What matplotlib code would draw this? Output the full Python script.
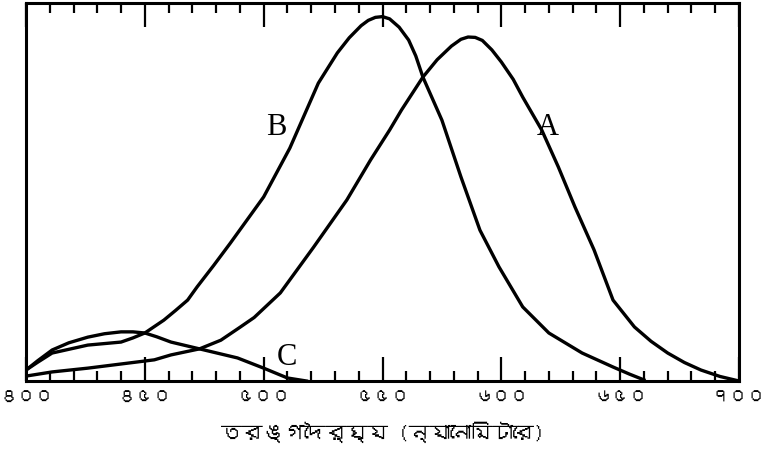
import numpy as np
import matplotlib
matplotlib.use("Agg")
import matplotlib.pyplot as plt
from matplotlib import font_manager
from matplotlib.ticker import MultipleLocator

# wavelength (nm) and relative absorption
nm_a = [400, 411, 426, 440, 454, 461, 473, 482, 490, 496, 507, 521, 535, 545, 553,
        558, 567, 573, 579, 583, 586, 589, 592, 596, 600, 605, 609, 617, 624, 631,
        639, 647, 656, 663, 670, 677, 684, 692, 700]
val_a = [1.3, 2.4, 3.4, 4.5, 5.6, 6.9, 8.5, 10.8, 14.2, 16.8, 23.3, 35.4, 47.9, 58.5, 66.4,
         71.7, 80.4, 85.0, 88.6, 90.4, 91.0, 90.9, 90.1, 87.6, 84.4, 79.8, 75.1, 66.4, 56.6, 46.0,
         34.7, 21.4, 14.3, 10.5, 7.4, 4.9, 2.9, 1.2, 0.0]

nm_b = [400, 405, 411, 426, 440, 445, 450, 458, 463, 468, 472, 479, 486, 493, 500, 511,
        523, 531, 536, 541, 544, 547, 550, 553, 557, 561, 564, 567, 575, 583, 591, 599,
        609, 620, 634, 647, 654, 660]
val_b = [2.9, 5.0, 7.4, 9.5, 10.3, 11.4, 12.7, 16.1, 18.7, 21.4, 24.9, 30.6, 36.5, 42.6, 48.7, 61.6,
         78.8, 86.8, 90.8, 94.0, 95.4, 96.2, 96.4, 95.8, 93.6, 90.2, 86.0, 80.4, 69.0, 54.0, 39.9, 30.2,
         19.6, 12.7, 7.4, 3.7, 1.8, 0.3]

nm_c = [400, 405, 411, 418, 426, 433, 440, 445, 450, 455, 461, 473, 489, 500, 510, 518]
val_c = [2.9, 5.4, 8.2, 10.1, 11.6, 12.5, 13.0, 13.0, 12.7, 11.7, 10.3, 8.5, 6.1, 3.4, 0.8, 0.0]

tick_nm = [400, 450, 500, 550, 600, 650, 700]
tick_text = ["৪০০", "৪৫০", "৫০০", "৫৫০", "৬০০", "৬৫০", "৭০০"]
x_title = "তরঙ্গদৈর্ঘ্য (ন্যানোমিটারে)"


def find_bengali_font():
    # look for any installed font that has Bengali digits
    try:
        from fontTools.ttLib import TTFont
    except ImportError:
        return None
    seen = set()
    for f in font_manager.fontManager.ttflist:
        if f.fname in seen:
            continue
        seen.add(f.fname)
        try:
            tt = TTFont(f.fname, fontNumber=0, lazy=True)
            cmap = tt.getBestCmap()
            if cmap and 0x09E6 in cmap and 0x0995 in cmap:
                return f.name
        except Exception:
            continue
    return None


bn_font = find_bengali_font()
bn_family = [bn_font, "DejaVu Sans"] if bn_font else ["DejaVu Sans"]

fig = plt.figure(figsize=(7.67, 4.58), dpi=100)
ax = fig.add_axes([26 / 767, 77 / 458, 713 / 767, 378 / 458])

ax.plot(nm_a, val_a, color="black", lw=2.4, solid_joinstyle="round")
ax.plot(nm_b, val_b, color="black", lw=2.4, solid_joinstyle="round")
ax.plot(nm_c, val_c, color="black", lw=2.4, solid_joinstyle="round")

ax.set_xlim(400, 700)
ax.set_ylim(0, 100)

for s in ax.spines.values():
    s.set_linewidth(2.2)

ax.xaxis.set_major_locator(MultipleLocator(50))
ax.xaxis.set_minor_locator(MultipleLocator(10))
ax.tick_params(axis="x", which="both", direction="in", top=True, bottom=True, width=1.6)
ax.tick_params(axis="x", which="major", length=17, pad=7)
ax.tick_params(axis="x", which="minor", length=7)
ax.set_yticks([])
ax.set_xticks(tick_nm)
ax.set_xticklabels(tick_text, family=bn_family, fontsize=13)

ax.set_xlabel(x_title, family=bn_family, fontsize=15, labelpad=12)

ax.text(505.5, 67, "B", family="Liberation Serif", fontsize=22, ha="center", va="center")
ax.text(619.5, 67, "A", family="Liberation Serif", fontsize=22, ha="center", va="center")
ax.text(510, 6.3, "C", family="Liberation Serif", fontsize=22, ha="center", va="center")

fig.savefig("out.png", dpi=100)
